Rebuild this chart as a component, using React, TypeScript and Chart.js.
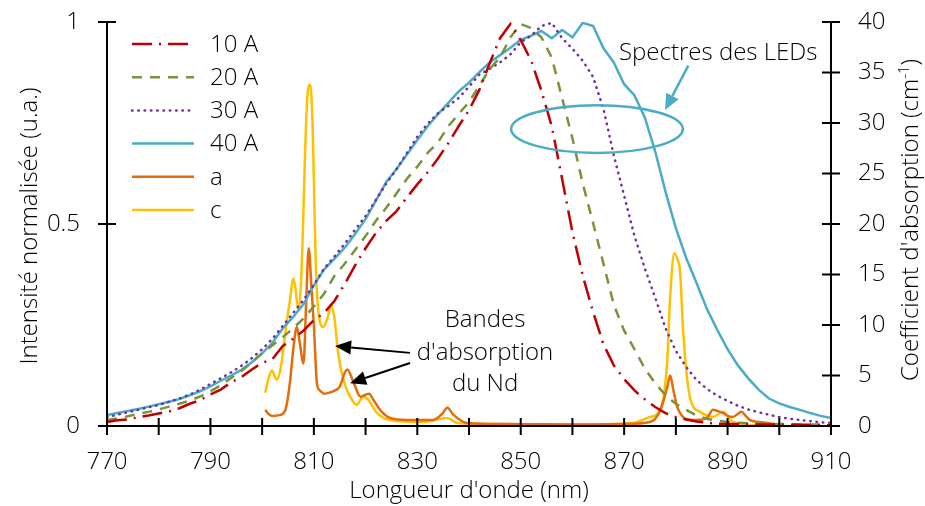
import React, { useEffect, useRef } from 'react';
import { Chart, registerables } from 'chart.js';

Chart.register(...registerables);

const FONT = '"Open Sans", "DejaVu Sans", sans-serif';

// ---- data ----
const ledNm = [770, 772, 774, 776, 778, 780, 782, 784, 786, 788, 790, 792, 794, 796, 798, 800, 802, 804, 806, 808, 810, 812, 814, 816, 818, 820, 822, 824, 826, 828, 830, 832, 834, 836, 838, 840, 842, 844, 846, 848, 850, 852, 854, 856, 858, 860, 862, 864, 866, 868, 870, 872, 874, 876, 878, 880, 882, 884, 886, 888, 890, 892, 894, 896, 898, 900, 902, 904, 906, 908, 910];

const led10A = [0.010, 0.014, 0.016, 0.022, 0.026, 0.031, 0.036, 0.044, 0.055, 0.064, 0.078, 0.090, 0.108, 0.121, 0.140, 0.156, 0.166, 0.198, 0.216, 0.236, 0.262, 0.280, 0.310, 0.352, 0.398, 0.440, 0.478, 0.508, 0.532, 0.566, 0.598, 0.628, 0.662, 0.700, 0.742, 0.782, 0.832, 0.898, 0.960, 0.995, 0.955, 0.905, 0.830, 0.742, 0.612, 0.480, 0.372, 0.282, 0.202, 0.150, 0.116, 0.088, 0.066, 0.047, 0.032, 0.022, 0.016, 0.011, 0.008, 0.006, 0.005, 0.005, 0.004, 0.004, 0.004, 0.003, 0.003, 0.003, 0.003, 0.002, 0.002];

const led20A = [0.015, 0.019, 0.024, 0.030, 0.035, 0.041, 0.048, 0.055, 0.063, 0.073, 0.086, 0.101, 0.119, 0.136, 0.158, 0.180, 0.200, 0.220, 0.242, 0.266, 0.296, 0.328, 0.372, 0.402, 0.436, 0.470, 0.508, 0.540, 0.576, 0.612, 0.642, 0.676, 0.702, 0.742, 0.772, 0.802, 0.842, 0.884, 0.912, 0.962, 0.995, 0.985, 0.962, 0.912, 0.812, 0.712, 0.600, 0.502, 0.402, 0.300, 0.236, 0.190, 0.142, 0.106, 0.076, 0.055, 0.040, 0.026, 0.018, 0.013, 0.010, 0.008, 0.007, 0.006, 0.005, 0.005, 0.005, 0.004, 0.004, 0.004, 0.004];

const led30A = [0.022, 0.028, 0.034, 0.040, 0.046, 0.052, 0.060, 0.068, 0.078, 0.090, 0.104, 0.118, 0.133, 0.149, 0.168, 0.190, 0.216, 0.248, 0.280, 0.312, 0.350, 0.390, 0.420, 0.452, 0.486, 0.520, 0.560, 0.600, 0.636, 0.676, 0.716, 0.748, 0.774, 0.792, 0.812, 0.840, 0.870, 0.884, 0.900, 0.920, 0.950, 0.966, 0.990, 0.998, 0.960, 0.934, 0.904, 0.864, 0.785, 0.670, 0.570, 0.470, 0.390, 0.318, 0.242, 0.186, 0.146, 0.114, 0.092, 0.075, 0.062, 0.050, 0.041, 0.034, 0.028, 0.022, 0.018, 0.015, 0.012, 0.009, 0.007];

const led40A = [0.027, 0.032, 0.037, 0.042, 0.048, 0.054, 0.060, 0.067, 0.076, 0.086, 0.098, 0.112, 0.125, 0.139, 0.158, 0.180, 0.206, 0.242, 0.270, 0.302, 0.348, 0.388, 0.414, 0.442, 0.476, 0.512, 0.558, 0.604, 0.636, 0.672, 0.708, 0.742, 0.772, 0.800, 0.828, 0.850, 0.876, 0.900, 0.918, 0.936, 0.956, 0.966, 0.978, 0.960, 0.980, 0.962, 0.998, 0.990, 0.935, 0.900, 0.846, 0.818, 0.764, 0.680, 0.580, 0.490, 0.416, 0.354, 0.290, 0.238, 0.190, 0.150, 0.118, 0.090, 0.068, 0.056, 0.047, 0.040, 0.032, 0.025, 0.020];

const absANm = [800.6, 801.2, 802, 803.5, 804.5, 805.3, 806, 806.7, 807.2, 808.0, 808.5, 809.0, 809.5, 810, 810.6, 811.2, 812, 813, 814, 815, 816, 816.5, 817.3, 818, 819, 820, 820.7, 821.5, 822.8, 824.7, 828, 833, 834.8, 835.8, 837, 839.6, 847, 860, 870, 875, 876.3, 877.5, 878.4, 878.9, 879.5, 880.2, 880.8, 882, 884, 886, 887.2, 888, 889.1, 890, 891, 892, 892.7, 893.5, 894.3, 896, 897.6, 899];
const absA = [1.6, 1.2, 1.0, 1.1, 1.6, 4.0, 7.5, 9.8, 8.5, 6.2, 12, 17.6, 14, 10, 4.2, 3.5, 3.2, 3.3, 3.5, 3.9, 5.3, 5.6, 4.8, 3.9, 2.9, 3.1, 3.2, 2.6, 1.6, 0.8, 0.6, 0.6, 1.2, 1.8, 1.1, 0.3, 0.2, 0.15, 0.2, 0.4, 0.9, 2.3, 4.0, 5.0, 3.6, 2.0, 1.3, 0.7, 0.6, 0.8, 1.6, 1.5, 1.3, 1.0, 0.9, 1.2, 1.4, 1.0, 0.6, 0.4, 0.3, 0.2];

const absCNm = [800.6, 801.3, 801.9, 802.8, 803.5, 804, 804.8, 805.4, 806, 806.4, 807, 807.5, 807.9, 808.3, 808.8, 809.3, 809.8, 810.1, 810.4, 810.9, 811.8, 812.7, 813.3, 814, 814.7, 815.7, 817, 818.3, 819.5, 820.5, 822.2, 824.7, 831, 835.8, 837.7, 845, 860, 871.7, 875, 877, 878.3, 878.9, 879.7, 880.3, 880.8, 881.4, 882.7, 884.7, 887.2, 889.1, 891, 894.3, 898];
const absC = [3.3, 4.8, 5.5, 4.6, 5.5, 7.2, 10.5, 12.5, 14.6, 13.8, 11.5, 14, 19.7, 27, 33, 33.8, 29, 22, 15.5, 11.2, 9.8, 10.8, 12, 10.6, 7.2, 4.6, 2.9, 2.1, 2.9, 2.6, 1.3, 0.6, 0.4, 0.8, 0.3, 0.2, 0.15, 0.3, 0.9, 1.6, 6.2, 12.8, 17.1, 16.5, 15.4, 9.5, 2.9, 1.4, 0.9, 1.4, 0.4, 0.1, 0.05];

const seriesLabels = ['10 A', '20 A', '30 A', '40 A', 'a', 'c'];
const seriesColors = ['#C00000', '#77933C', '#7030A0', '#4BACC6', '#E46C0A', '#FFC000'];
const seriesDash: number[][] = [[20, 7, 2, 7], [10, 8], [0.5, 5.8], [], [], []];

const yTickValues = [0, 0.5, 1];
const yTickLabels = ['0', '0.5', '1'];

const xTitle = "Longueur d'onde (nm)";
const yTitle = 'Intensité normalisée (u.a.)';
const y2TitleMain = "Coefficient d'absorption (cm";
const y2TitleSup = '-1';
const ledNote = 'Spectres des LEDs';
const bandNote = ['Bandes', "d'absorption", 'du Nd'];

// annotation anchors in data units (nm, normalised intensity)
const ellipseC = { nm: 864.75, v: 0.735, rnm: 16.6, rv: 0.059 };
const ledArrow = { fromNm: 882.4, fromV: 0.892, toNm: 877.9, toV: 0.782 };
const ledNoteAt = { nm: 869.0, v: 0.906 };
const bandTextAt = { nm: 843.1, v: [0.245, 0.163, 0.0866] };
const bandArrows = [
  { fromNm: 828.6, fromV: 0.181, toNm: 814.1, toV: 0.198 },
  { fromNm: 828.6, fromV: 0.156, toNm: 817.0, toV: 0.106 },
];

function arrow(ctx: CanvasRenderingContext2D, x1: number, y1: number, x2: number, y2: number, color: string, headLen: number, headW: number, lw: number) {
  const ang = Math.atan2(y2 - y1, x2 - x1);
  const bx = x2 - headLen * Math.cos(ang);
  const by = y2 - headLen * Math.sin(ang);
  ctx.strokeStyle = color;
  ctx.lineWidth = lw;
  ctx.setLineDash([]);
  ctx.beginPath();
  ctx.moveTo(x1, y1);
  ctx.lineTo(bx, by);
  ctx.stroke();
  ctx.fillStyle = color;
  ctx.beginPath();
  ctx.moveTo(x2, y2);
  ctx.lineTo(bx + headW * Math.sin(ang), by - headW * Math.cos(ang));
  ctx.lineTo(bx - headW * Math.sin(ang), by + headW * Math.cos(ang));
  ctx.closePath();
  ctx.fill();
}

const decorPlugin = {
  id: 'decor',
  afterDraw(chart: any) {
    const ctx: CanvasRenderingContext2D = chart.ctx;
    const ca = chart.chartArea;
    const sx = chart.scales.x;
    const sy = chart.scales.y;
    const sy2 = chart.scales.y2;
    const px = (v: number) => sx.getPixelForValue(v);
    const py = (v: number) => sy.getPixelForValue(v);
    ctx.save();

    // axes lines
    ctx.strokeStyle = '#000';
    ctx.lineWidth = 2;
    ctx.setLineDash([]);
    ctx.beginPath();
    ctx.moveTo(ca.left, ca.top - 1);
    ctx.lineTo(ca.left, ca.bottom);
    ctx.moveTo(ca.right, ca.top - 1);
    ctx.lineTo(ca.right, ca.bottom);
    ctx.moveTo(ca.left, ca.bottom);
    ctx.lineTo(ca.right, ca.bottom);
    ctx.stroke();

    // crossing ticks
    ctx.beginPath();
    sx.ticks.forEach((t: any) => {
      const p = px(t.value);
      ctx.moveTo(p, ca.bottom - 8);
      ctx.lineTo(p, ca.bottom + 9);
    });
    sy.ticks.forEach((t: any) => {
      const p = sy.getPixelForValue(t.value);
      ctx.moveTo(ca.left - 9, p);
      ctx.lineTo(ca.left + 9, p);
    });
    sy2.ticks.forEach((t: any) => {
      const p = sy2.getPixelForValue(t.value);
      ctx.moveTo(ca.right - 9, p);
      ctx.lineTo(ca.right + 9, p);
    });
    ctx.stroke();

    // axis titles
    ctx.fillStyle = '#000';
    ctx.font = `300 24px ${FONT}`;
    ctx.textAlign = 'center';
    ctx.textBaseline = 'alphabetic';
    ctx.fillText(xTitle, (ca.left + ca.right) / 2, ca.bottom + 72);

    ctx.save();
    ctx.translate(37, (ca.top + ca.bottom) / 2 + 2);
    ctx.rotate(-Math.PI / 2);
    ctx.fillText(yTitle, 0, 0);
    ctx.restore();

    ctx.save();
    ctx.translate(ca.right + 87, (ca.top + ca.bottom) / 2 - 4);
    ctx.rotate(-Math.PI / 2);
    ctx.font = `300 24px ${FONT}`;
    const w1 = ctx.measureText(y2TitleMain).width;
    const w3 = ctx.measureText(')').width;
    ctx.font = `300 15px ${FONT}`;
    const w2 = ctx.measureText(y2TitleSup).width;
    const total = w1 + w2 + w3;
    let cx = -total / 2;
    ctx.textAlign = 'left';
    ctx.font = `300 24px ${FONT}`;
    ctx.fillText(y2TitleMain, cx, 0);
    cx += w1;
    ctx.font = `300 15px ${FONT}`;
    ctx.fillText(y2TitleSup, cx, -9);
    cx += w2;
    ctx.font = `300 24px ${FONT}`;
    ctx.fillText(')', cx, 0);
    ctx.restore();

    // legend
    const lx0 = ca.left + 25;
    const lx1 = ca.left + 87;
    const ly0 = ca.top + 22;
    const lstep = 33.2;
    chart.data.datasets.forEach((ds: any, i: number) => {
      const yy = ly0 + i * lstep;
      ctx.strokeStyle = ds.borderColor;
      ctx.lineWidth = 2.5;
      ctx.lineCap = ds.borderCapStyle || 'butt';
      ctx.setLineDash(ds.borderDash || []);
      ctx.beginPath();
      ctx.moveTo(lx0, yy);
      ctx.lineTo(lx1, yy);
      ctx.stroke();
      ctx.setLineDash([]);
      ctx.lineCap = 'butt';
      ctx.fillStyle = '#000';
      ctx.font = `300 24px ${FONT}`;
      ctx.textAlign = 'left';
      ctx.textBaseline = 'middle';
      ctx.fillText(ds.label, lx1 + 16, yy + 1);
    });

    // LED annotation
    const ecx = px(ellipseC.nm);
    const ecy = py(ellipseC.v);
    const erx = px(ellipseC.nm + ellipseC.rnm) - ecx;
    const ery = ecy - py(ellipseC.v + ellipseC.rv);
    ctx.strokeStyle = '#4BACC6';
    ctx.lineWidth = 2.5;
    ctx.setLineDash([]);
    ctx.beginPath();
    ctx.ellipse(ecx, ecy, erx, ery, 0, 0, Math.PI * 2);
    ctx.stroke();
    arrow(ctx, px(ledArrow.fromNm), py(ledArrow.fromV), px(ledArrow.toNm), py(ledArrow.toV), '#4BACC6', 16, 7, 2.5);

    ctx.fillStyle = '#000';
    ctx.font = `300 24px ${FONT}`;
    ctx.textAlign = 'left';
    ctx.textBaseline = 'alphabetic';
    ctx.fillText(ledNote, px(ledNoteAt.nm), py(ledNoteAt.v));

    // Nd bands annotation
    ctx.textAlign = 'center';
    bandNote.forEach((s, i) => {
      ctx.fillText(s, px(bandTextAt.nm), py(bandTextAt.v[i]));
    });
    bandArrows.forEach((a) => {
      arrow(ctx, px(a.fromNm), py(a.fromV), px(a.toNm), py(a.toV), '#000', 16, 7, 2);
    });

    ctx.restore();
  },
};

export default function App() {
  const ref = useRef<HTMLCanvasElement>(null);

  useEffect(() => {
    const canvas = ref.current;
    if (!canvas) return;
    const ledSeries = [led10A, led20A, led30A, led40A];
    const datasets: any[] = ledSeries.map((vals, i) => ({
      label: seriesLabels[i],
      data: ledNm.map((x, j) => ({ x, y: vals[j] })),
      borderColor: seriesColors[i],
      backgroundColor: seriesColors[i],
      borderWidth: 2.5,
      borderDash: seriesDash[i],
      borderCapStyle: i === 2 ? 'round' : 'butt',
      pointRadius: 0,
      tension: 0,
      yAxisID: 'y',
    }));
    datasets.push({
      label: seriesLabels[4],
      data: absANm.map((x, j) => ({ x, y: absA[j] })),
      borderColor: seriesColors[4],
      backgroundColor: seriesColors[4],
      borderWidth: 2.5,
      pointRadius: 0,
      cubicInterpolationMode: 'monotone',
      yAxisID: 'y2',
    });
    datasets.push({
      label: seriesLabels[5],
      data: absCNm.map((x, j) => ({ x, y: absC[j] })),
      borderColor: seriesColors[5],
      backgroundColor: seriesColors[5],
      borderWidth: 2.5,
      pointRadius: 0,
      cubicInterpolationMode: 'monotone',
      yAxisID: 'y2',
    });

    const tickFont = { family: FONT, size: 24, weight: 300 as any };
    const fitV = (w: number) => (s: any) => {
      s.width = w;
      s.paddingTop = 0;
      s.paddingBottom = 0;
    };
    const chart = new Chart(canvas, {
      type: 'line',
      data: { datasets },
      plugins: [decorPlugin],
      options: {
        animation: false,
        responsive: false,
        maintainAspectRatio: false,
        layout: { padding: { top: 22, left: 0, right: 0, bottom: 0 } },
        plugins: { legend: { display: false }, tooltip: { enabled: false } },
        elements: { point: { radius: 0 } },
        scales: {
          x: {
            type: 'linear',
            min: 770,
            max: 910,
            grid: { display: false, drawTicks: false },
            border: { display: false },
            ticks: {
              stepSize: 10,
              autoSkip: false,
              maxRotation: 0,
              padding: 22,
              color: '#000',
              font: tickFont,
              callback: (v: any) => ((Number(v) - 770) % 20 === 0 ? String(v) : ''),
            },
            afterFit: (s: any) => {
              s.height = 80;
              s.paddingLeft = 0;
              s.paddingRight = 0;
            },
          },
          y: {
            type: 'linear',
            position: 'left',
            min: 0,
            max: 1,
            grid: { display: false, drawTicks: false },
            border: { display: false },
            ticks: {
              stepSize: 0.5,
              padding: 27,
              color: '#000',
              font: tickFont,
              callback: (v: any) => {
                const k = yTickValues.indexOf(Number(v));
                return k >= 0 ? yTickLabels[k] : '';
              },
            },
            afterFit: fitV(107),
          },
          y2: {
            type: 'linear',
            position: 'right',
            min: 0,
            max: 40,
            grid: { display: false, drawTicks: false },
            border: { display: false },
            ticks: { stepSize: 5, padding: 27, color: '#000', font: tickFont },
            afterFit: fitV(94),
          },
        },
      } as any,
    });
    return () => chart.destroy();
  }, []);

  return (
    <div style={{ position: 'absolute', left: 0, top: 0, width: 925, height: 506, background: '#fff' }}>
      <canvas ref={ref} width={925} height={506} style={{ display: 'block', width: 925, height: 506 }} />
    </div>
  );
}
